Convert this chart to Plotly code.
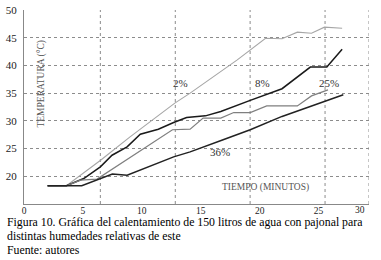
import plotly.graph_objects as go

# Data
t_2 = [2, 3.6, 6.5, 9.0, 12.8, 14.1, 18.1, 20.5, 21.9, 23.2, 24.4, 25.5, 27.0]
T_2 = [18.3, 18.3, 22.9, 27.1, 33.2, 35.0, 41.0, 44.9, 44.8, 46.0, 45.8, 46.9, 46.7]

t_8 = [2, 3.6, 5.07, 6.48, 7.47, 8.75, 9.87, 11.4, 12.7, 13.8, 15.4, 16.7, 19.2, 21.9, 24.3, 25.7, 27.0]
T_8 = [18.3, 18.3, 19.6, 21.7, 23.8, 25.3, 27.6, 28.5, 29.7, 30.6, 30.9, 31.7, 33.7, 35.8, 39.7, 39.7, 42.9]

t_25 = [2, 3.6, 4.8, 6.2, 12.6, 14.1, 15.2, 16.7, 17.8, 19.2, 20.6, 23.2, 24.4, 25.8]
T_25 = [18.3, 18.3, 19.3, 19.5, 28.4, 28.5, 30.5, 30.5, 31.5, 31.5, 32.7, 32.7, 34.5, 35.6]

t_36 = [2, 3.6, 4.9, 7.5, 8.75, 12.7, 14.1, 16.9, 19.2, 21.9, 24.4, 25.7, 27.1]
T_36 = [18.3, 18.3, 18.3, 20.4, 20.2, 23.5, 24.4, 26.6, 28.4, 30.8, 32.7, 33.6, 34.7]

x_ticks = [0, 5, 10, 15, 20, 25]
y_ticks = [20, 25, 30, 35, 40, 45, 50]
grid_x = [6.48, 12.84, 19.19, 25.55]

series_labels = ["2%", "8%", "25%", "36%"]
label_x = [13.3, 20.2, 25.9, 16.65]
label_y = [36.8, 36.8, 36.8, 24.3]

SERIF = "Liberation Serif, Times New Roman, serif"
XMAX = 29.28

fig = go.Figure()
styles = [("#a6a6a6", 1.1), ("#1a1a1a", 1.5), ("#7f7f7f", 1.2), ("#222222", 1.5)]
for (t, T), (c, w) in zip([(t_2, T_2), (t_8, T_8), (t_25, T_25), (t_36, T_36)], styles):
    fig.add_trace(go.Scatter(x=t, y=T, mode="lines", line=dict(color=c, width=w),
                             showlegend=False, hoverinfo="skip"))

for lx, ly, lt in zip(label_x, label_y, series_labels):
    fig.add_annotation(x=lx, y=ly, text=lt, showarrow=False,
                       font=dict(family=SERIF, size=11, color="#333"))

shapes = []
for gx in grid_x:
    shapes.append(dict(type="line", xref="x", yref="paper", x0=gx, x1=gx, y0=0, y1=1,
                       line=dict(color="#8c8c8c", width=1, dash="dot"), layer="below"))
shapes.append(dict(type="line", xref="x", yref="paper", x0=XMAX, x1=XMAX, y0=0, y1=1,
                   line=dict(color="#8c8c8c", width=1, dash="dot"), layer="below"))

fig.update_layout(
    width=381, height=260,
    margin=dict(l=24, r=12, t=10, b=56, autoexpand=False),
    paper_bgcolor="white", plot_bgcolor="white",
    shapes=shapes,
    xaxis=dict(range=[0, XMAX], tickvals=x_ticks, ticktext=[str(v) for v in x_ticks],
               showgrid=False, zeroline=False, showline=True, linecolor="#888", linewidth=1,
               automargin=False,
               ticks="", tickfont=dict(family=SERIF, size=9.5, color="#222"), ticklabelstandoff=-2),
    yaxis=dict(range=[15, 50], tickvals=y_ticks, ticktext=[str(v) for v in y_ticks],
               showgrid=True, gridcolor="#8c8c8c", griddash="dot", gridwidth=1,
               zeroline=False, showline=True, linecolor="#888", linewidth=1,
               automargin=False,
               ticks="", tickfont=dict(family=SERIF, size=11, color="#222"), ticklabelstandoff=4),
)

# "30" tick label at the right edge
fig.add_annotation(xref="paper", yref="paper", x=(367 - 24) / 345, y=0, yanchor="top",
                   yshift=1, text="30", showarrow=False,
                   font=dict(family=SERIF, size=9.5, color="#222"))

# axis titles inside the plot
fig.add_annotation(xref="paper", yref="paper", x=(33 - 24) / 345, y=(204 - 84) / 194,
                   text="TEMPERATURA (°C)", textangle=-90, showarrow=False,
                   font=dict(family=SERIF, size=9.5, color="#555"))
fig.add_annotation(xref="paper", yref="paper", x=(311 - 24) / 345, y=(204 - 195) / 194,
                   text="TIEMPO (MINUTOS)", showarrow=False,
                   font=dict(family=SERIF, size=9.5, color="#555"))

# caption
caption = ["Figura 10. Gráfica del calentamiento de 150 litros de agua con pajonal para",
           "distintas humedades relativas de este",
           "Fuente: autores"]
for i, line in enumerate(caption):
    fig.add_annotation(xref="paper", yref="paper", x=(5 - 24) / 345, xanchor="left",
                       y=(204 - (222 + 14 * i)) / 194, yanchor="middle",
                       text=line, showarrow=False,
                       font=dict(family=SERIF, size=11.8, color="#000"))

fig.write_html("out.html", config={"displayModeBar": False},
               post_script="document.body.style.margin='0';document.body.style.overflow='hidden';")
